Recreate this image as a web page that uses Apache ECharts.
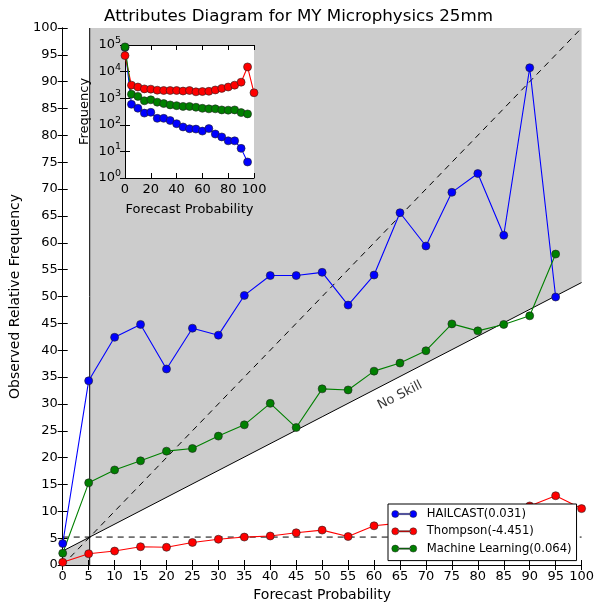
<!DOCTYPE html>
<html>
<head>
<meta charset="utf-8">
<script src="https://cdn.jsdelivr.net/npm/echarts@6/dist/echarts.min.js"></script>
<style>
  html, body { margin: 0; padding: 0; background: #fff; }
  #main { width: 597px; height: 607px; }
</style>
</head>
<body>
<div id="main"></div>
<script>
// forecast probability bins (%)
var probs = [0, 5, 10, 15, 20, 25, 30, 35, 40, 45, 50, 55, 60, 65, 70, 75, 80, 85, 90, 95, 100];

// observed relative frequency (%)
var hailcast = [4.0, 34.3, 42.4, 44.8, 36.5, 44.1, 42.8, 50.2, 53.9, 53.9, 54.5, 48.4, 54.0, 65.6, 59.4, 69.4, 72.9, 61.4, 92.6, 49.9];
var thompson = [0.5, 2.1, 2.6, 3.4, 3.3, 4.2, 4.8, 5.2, 5.4, 6.0, 6.5, 5.3, 7.3, 7.8, 8.4, 9.0, 9.6, 10.2, 11.0, 12.9, 10.5];
var mlearn = [2.2, 15.3, 17.7, 19.4, 21.2, 21.7, 24.0, 26.1, 30.1, 25.6, 32.8, 32.6, 36.1, 37.6, 39.9, 44.9, 43.6, 44.8, 46.4, 57.9];

// forecast counts per bin (inset)
var hailcastFreq = [80000, 590, 420, 275, 295, 175, 175, 145, 110, 83, 71, 69, 58, 72, 45, 35, 25, 25, 13, 4];
var thompsonFreq = [40000, 3100, 2630, 2240, 2190, 2000, 1950, 1950, 1950, 1860, 1950, 1740, 1780, 1820, 2040, 2340, 2630, 3100, 4000, 15000, 1600];
var mlearnFreq = [85000, 1410, 1170, 800, 870, 710, 630, 560, 525, 490, 490, 457, 417, 398, 398, 363, 355, 363, 288, 257];

var names = ['HAILCAST(0.031)', 'Thompson(-4.451)', 'Machine Learning(0.064)'];
var colors = ['#0000ff', '#ff0000', '#008000'];

var clim = 5.2; // climatology

function pairs(ys) {
  return ys.map(function (y, i) { return [probs[i], y]; });
}

// shaded skill regions
var shadePolys = [
  [[0, 0], [clim, 0], [clim, clim], [0, clim / 2]],
  [[clim, clim], [100, (100 + clim) / 2], [100, 100], [clim, 100]]
];

var FONT = 'DejaVu Sans';
var myChart = echarts.init(document.getElementById('main'));

function frameAxis(extra) {
  var base = {
    axisLine: { show: true, lineStyle: { color: '#000', width: 1 } },
    axisTick: { show: true, inside: true, length: 5, lineStyle: { color: '#000' } },
    splitLine: { show: false },
    axisLabel: { show: false }
  };
  return Object.assign(base, extra);
}

function supLabel(v) {
  var e = Math.round(Math.log(v) / Math.LN10);
  return '{b|10}{s|' + e + '}';
}

var lineSeries = function (name, data, color, xi, yi, z) {
  return {
    name: name, type: 'line', data: data,
    xAxisIndex: xi, yAxisIndex: yi, z: z,
    symbol: 'circle', symbolSize: 8,
    lineStyle: { color: color, width: 1.1 },
    itemStyle: { color: color, borderColor: '#222', borderWidth: 0.6 },
    emphasis: { disabled: true },
    animation: false
  };
};

var refLine = function (data, type) {
  return {
    type: 'line', data: data, xAxisIndex: 0, yAxisIndex: 0, z: 1,
    symbol: 'none', silent: true,
    lineStyle: { color: '#000', width: 1, type: type },
    animation: false
  };
};

// two dots joined by a line, like the matplotlib legend handle
var legendIcon = 'path://M0,4a3.5,3.5 0 1,0 7,0a3.5,3.5 0 1,0 -7,0Z M6,3.4L19,3.4L19,4.6L6,4.6Z M18,4a3.5,3.5 0 1,0 7,0a3.5,3.5 0 1,0 -7,0Z';

var option = {
  animation: false,
  backgroundColor: '#fff',
  textStyle: { fontFamily: FONT },
  title: {
    text: 'Attributes Diagram for MY Microphysics 25mm',
    left: 'center', top: 3,
    textStyle: { fontFamily: FONT, fontSize: 16.7, fontWeight: 'normal', color: '#000' }
  },
  legend: {
    data: names.map(function (n, i) { return { name: n, icon: legendIcon, itemStyle: { color: colors[i], borderColor: '#222', borderWidth: 0.5 } }; }),
    orient: 'vertical',
    left: 388, top: 504,
    itemWidth: 25, itemHeight: 8, itemGap: 3.3,
    padding: [3, 5, 5, 3.5],
    backgroundColor: '#fff',
    borderColor: '#000', borderWidth: 1, borderRadius: 0,
    textStyle: { fontFamily: FONT, fontSize: 11.6, color: '#000', lineHeight: 14, padding: [0, 0, 0, 5] },
    z: 20
  },
  grid: [
    { left: 62, right: 15, top: 28, bottom: 42, z: 0 },
    { left: 125, top: 45, width: 129, height: 133, show: true, backgroundColor: '#fff', borderWidth: 0, z: 5 }
  ],
  xAxis: [
    frameAxis({
      type: 'value', gridIndex: 0, min: 0, max: 100, interval: 5,
      name: 'Forecast Probability', nameLocation: 'middle', nameGap: 23,
      nameTextStyle: { fontFamily: FONT, fontSize: 14, color: '#000' },
      axisLabel: { show: true, fontFamily: FONT, fontSize: 13, color: '#000', margin: 5 }
    }),
    frameAxis({ type: 'value', gridIndex: 0, min: 0, max: 100, interval: 5, position: 'top' }),
    frameAxis({
      type: 'value', gridIndex: 1, min: 0, max: 100, interval: 20, z: 6,
      name: 'Forecast Probability', nameLocation: 'middle', nameGap: 25,
      nameTextStyle: { fontFamily: FONT, fontSize: 13, color: '#000' },
      axisLabel: { show: true, fontFamily: FONT, fontSize: 13, color: '#000', margin: 5 }
    }),
    frameAxis({ type: 'value', gridIndex: 1, min: 0, max: 100, interval: 20, position: 'top', z: 6 })
  ],
  yAxis: [
    frameAxis({
      type: 'value', gridIndex: 0, min: 0, max: 100, interval: 5,
      name: 'Observed Relative Frequency', nameLocation: 'middle', nameGap: 37,
      nameTextStyle: { fontFamily: FONT, fontSize: 14, color: '#000' },
      axisLabel: { show: true, fontFamily: FONT, fontSize: 13, color: '#000', margin: 5 }
    }),
    frameAxis({ type: 'value', gridIndex: 0, min: 0, max: 100, interval: 5, position: 'right' }),
    frameAxis({
      type: 'log', logBase: 10, gridIndex: 1, min: 1, max: 100000, z: 6,
      name: 'Frequency', nameLocation: 'middle', nameGap: 34,
      nameTextStyle: { fontFamily: FONT, fontSize: 13, color: '#000' },
      axisLabel: {
        show: true, margin: 4, formatter: supLabel,
        rich: {
          b: { fontFamily: FONT, fontSize: 13, color: '#000' },
          s: { fontFamily: FONT, fontSize: 9.5, color: '#000', padding: [0, 0, 9, 0] }
        }
      }
    }),
    frameAxis({ type: 'log', logBase: 10, gridIndex: 1, min: 1, max: 100000, position: 'right', z: 6 })
  ],
  series: [
    {
      type: 'custom', xAxisIndex: 0, yAxisIndex: 0, z: 0, silent: true,
      data: shadePolys.map(function (p, i) { return [i]; }),
      renderItem: function (params, api) {
        var poly = shadePolys[params.dataIndex].map(function (p) { return api.coord(p); });
        return { type: 'polygon', shape: { points: poly }, style: { fill: '#cccccc', stroke: null } };
      },
      animation: false
    },
    refLine([[0, 0], [100, 100]], [6, 5]),
    refLine([[0, clim], [100, clim]], [6, 5]),
    refLine([[clim, 0], [clim, 100]], 'solid'),
    refLine([[0, clim / 2], [100, (100 + clim) / 2]], 'solid'),
    {
      type: 'scatter', xAxisIndex: 0, yAxisIndex: 0, z: 3, silent: true,
      data: [[65, 31.6]], symbolSize: 0,
      label: {
        show: true, position: 'inside', formatter: 'No Skill', rotate: 27,
        fontFamily: FONT, fontSize: 13, color: '#000'
      },
      animation: false
    },
    lineSeries(names[0], pairs(hailcast), colors[0], 0, 0, 4),
    lineSeries(names[1], pairs(thompson), colors[1], 0, 0, 4),
    lineSeries(names[2], pairs(mlearn), colors[2], 0, 0, 4),
    lineSeries(names[0], pairs(hailcastFreq), colors[0], 2, 2, 7),
    lineSeries(names[1], pairs(thompsonFreq), colors[1], 2, 2, 7),
    lineSeries(names[2], pairs(mlearnFreq), colors[2], 2, 2, 7)
  ]
};

myChart.setOption(option);
</script>
</body>
</html>
